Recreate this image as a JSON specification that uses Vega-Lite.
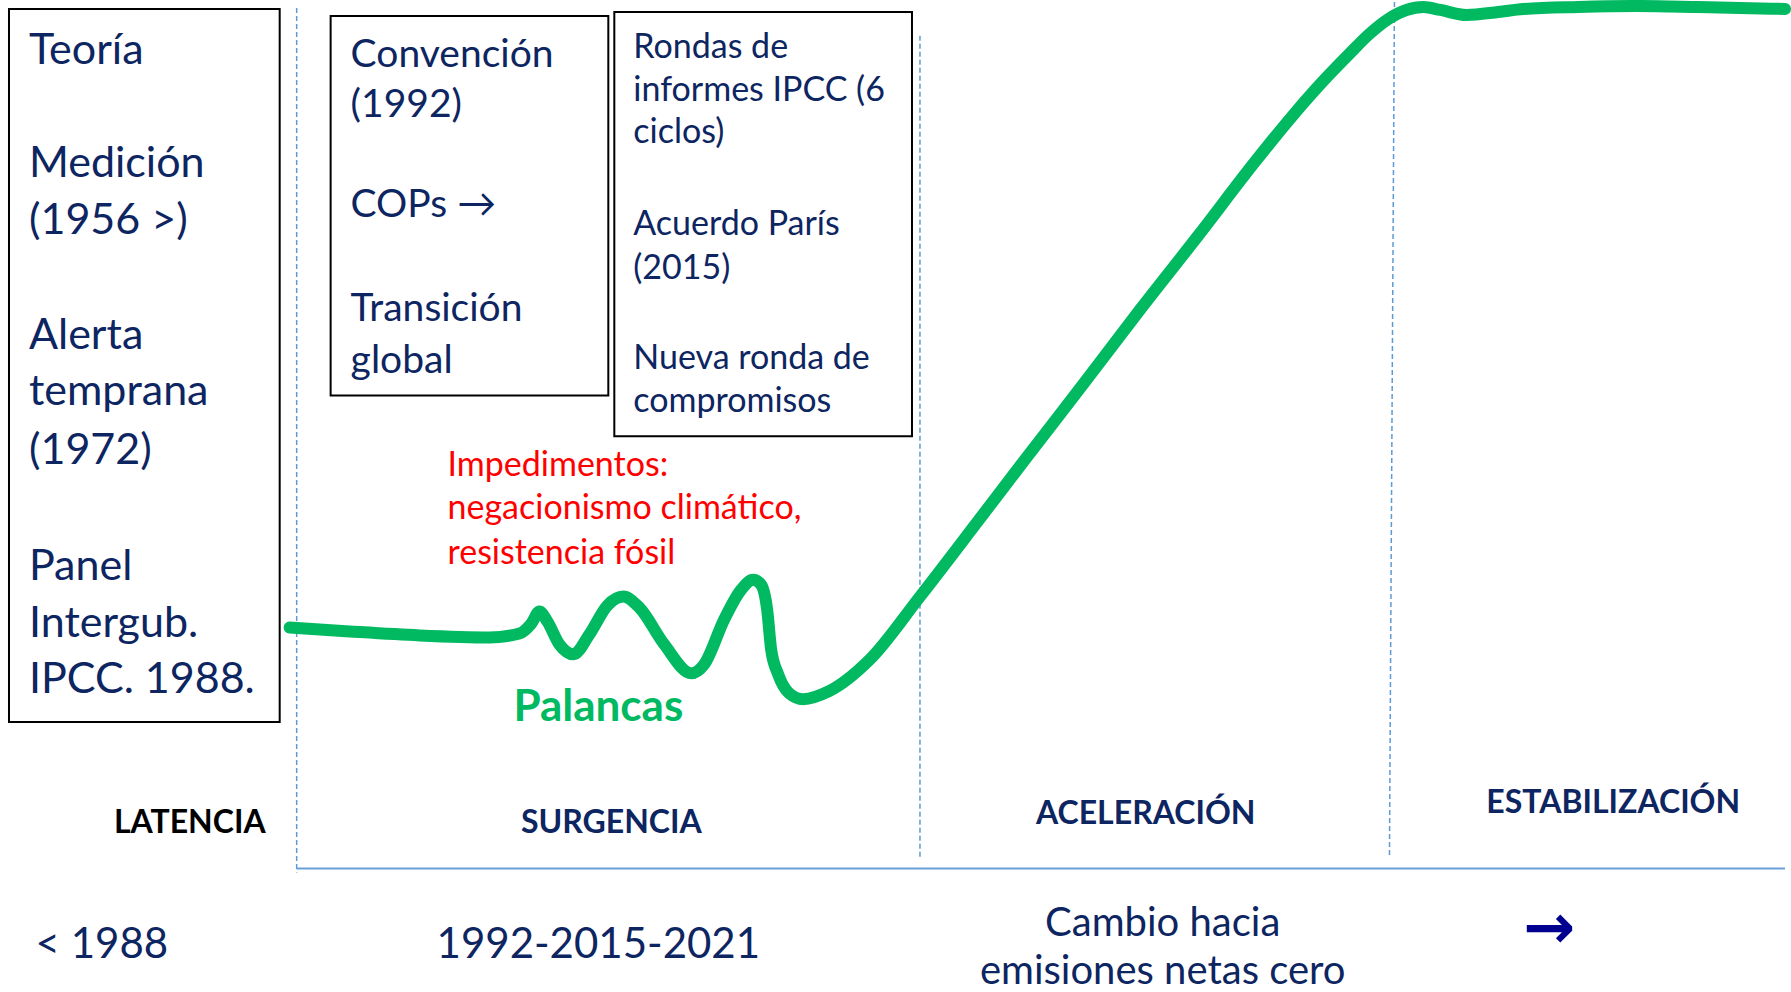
{
  "$schema": "https://vega.github.io/schema/vega-lite/v6.json",
  "width": 1791,
  "height": 992,
  "autosize": {"type": "fit", "contains": "padding"},
  "padding": 0,
  "background": "white",
  "config": {"view": {"stroke": null}},
  "datasets": {
    "boxes": [
      {"x1": 9, "x2": 280, "y1": 7, "y2": 723},
      {"x1": 331, "x2": 609, "y1": 14, "y2": 395},
      {"x1": 615, "x2": 913, "y1": 10, "y2": 436}
    ],
    "vlines": [
      {"xa": 297, "xb": 297, "ya": 6, "yb": 874},
      {"xa": 921, "xb": 921, "ya": 34, "yb": 860},
      {"xa": 1396, "xb": 1391, "ya": 0, "yb": 857}
    ],
    "hline": [{"xa": 297, "xb": 1787, "y": 870}],
    "curve": [
      {"x": 290, "y": 628}, {"x": 350, "y": 632}, {"x": 420, "y": 636}, {"x": 490, "y": 638},
      {"x": 520, "y": 634}, {"x": 532, "y": 624}, {"x": 540, "y": 612}, {"x": 548, "y": 622},
      {"x": 560, "y": 645}, {"x": 574, "y": 655}, {"x": 590, "y": 635}, {"x": 608, "y": 606},
      {"x": 624, "y": 597}, {"x": 640, "y": 608}, {"x": 665, "y": 645}, {"x": 692, "y": 674},
      {"x": 705, "y": 665}, {"x": 725, "y": 620}, {"x": 742, "y": 590}, {"x": 754, "y": 580},
      {"x": 762, "y": 585}, {"x": 768, "y": 610}, {"x": 772, "y": 650}, {"x": 779, "y": 675},
      {"x": 790, "y": 694}, {"x": 804, "y": 700}, {"x": 830, "y": 692}, {"x": 870, "y": 661},
      {"x": 921, "y": 597}, {"x": 980, "y": 520}, {"x": 1028, "y": 457}, {"x": 1085, "y": 383},
      {"x": 1142, "y": 308}, {"x": 1200, "y": 234}, {"x": 1256, "y": 161}, {"x": 1295, "y": 113},
      {"x": 1325, "y": 79}, {"x": 1350, "y": 53}, {"x": 1371, "y": 32}, {"x": 1390, "y": 17},
      {"x": 1408, "y": 8}, {"x": 1425, "y": 5}, {"x": 1442, "y": 8}, {"x": 1468, "y": 13},
      {"x": 1500, "y": 10}, {"x": 1525, "y": 7}, {"x": 1580, "y": 5}, {"x": 1639, "y": 4},
      {"x": 1700, "y": 5}, {"x": 1787, "y": 7}
    ],
    "leftText": [
      {"x": 29, "y": 49, "t": "Teoría"},
      {"x": 29, "y": 163, "t": "Medición"},
      {"x": 29, "y": 220, "t": "(1956 >)"},
      {"x": 29, "y": 335, "t": "Alerta"},
      {"x": 29, "y": 392, "t": "temprana"},
      {"x": 29, "y": 451, "t": "(1972)"},
      {"x": 29, "y": 567, "t": "Panel"},
      {"x": 29, "y": 625, "t": "Intergub."},
      {"x": 29, "y": 681, "t": "IPCC. 1988."}
    ],
    "box2Text": [
      {"x": 351, "y": 53, "t": "Convención"},
      {"x": 351, "y": 103, "t": "(1992)"},
      {"x": 351, "y": 204, "t": "COPs →"},
      {"x": 351, "y": 308, "t": "Transición"},
      {"x": 351, "y": 360, "t": "global"}
    ],
    "box3Text": [
      {"x": 634, "y": 46, "t": "Rondas de"},
      {"x": 634, "y": 89, "t": "informes IPCC (6"},
      {"x": 634, "y": 132, "t": "ciclos)"},
      {"x": 634, "y": 224, "t": "Acuerdo París"},
      {"x": 634, "y": 268, "t": "(2015)"},
      {"x": 634, "y": 358, "t": "Nueva ronda de"},
      {"x": 634, "y": 402, "t": "compromisos"}
    ],
    "redText": [
      {"x": 448, "y": 466, "t": "Impedimentos:"},
      {"x": 448, "y": 509, "t": "negacionismo climático,"},
      {"x": 448, "y": 554, "t": "resistencia fósil"}
    ],
    "greenText": [{"x": 599, "y": 709, "t": "Palancas"}],
    "stageBlack": [{"x": 190, "y": 824, "t": "LATENCIA"}],
    "stageNavy": [
      {"x": 612, "y": 824, "t": "SURGENCIA"},
      {"x": 1147, "y": 815, "t": "ACELERACIÓN"},
      {"x": 1615, "y": 804, "t": "ESTABILIZACIÓN"}
    ],
    "bottomBig": [
      {"x": 102, "y": 947, "t": "< 1988"},
      {"x": 599, "y": 947, "t": "1992-2015-2021"}
    ],
    "bottomMid": [
      {"x": 1164, "y": 926, "t": "Cambio hacia"},
      {"x": 1164, "y": 974, "t": "emisiones netas cero"}
    ],
    "arrow": [{"x": 1551, "y": 931, "t": "→"}]
  },
  "layer": [
    {
      "data": {"name": "boxes"},
      "mark": {"type": "rect", "fillOpacity": 0, "stroke": "#000000", "strokeWidth": 2},
      "encoding": {
        "x": {"field": "x1", "type": "quantitative", "scale": {"domain": [0, 1791], "nice": false, "zero": false}, "axis": null},
        "x2": {"field": "x2"},
        "y": {"field": "y1", "type": "quantitative", "scale": {"domain": [0, 992], "nice": false, "zero": false, "reverse": true}, "axis": null},
        "y2": {"field": "y2"}
      }
    },
    {
      "data": {"name": "vlines"},
      "mark": {"type": "rule", "color": "#5B9BD5", "strokeWidth": 1.5, "strokeDash": [5, 3]},
      "encoding": {
        "x": {"field": "xa", "type": "quantitative"},
        "x2": {"field": "xb"},
        "y": {"field": "ya", "type": "quantitative"},
        "y2": {"field": "yb"}
      }
    },
    {
      "data": {"name": "hline"},
      "mark": {"type": "rule", "color": "#6A9FD9", "strokeWidth": 2},
      "encoding": {
        "x": {"field": "xa", "type": "quantitative"},
        "x2": {"field": "xb"},
        "y": {"field": "y", "type": "quantitative"}
      }
    },
    {
      "data": {"name": "curve"},
      "mark": {"type": "line", "color": "#00B961", "strokeWidth": 12, "interpolate": "monotone", "strokeCap": "round", "strokeJoin": "round"},
      "encoding": {
        "x": {"field": "x", "type": "quantitative"},
        "y": {"field": "y", "type": "quantitative"}
      }
    },
    {
      "data": {"name": "leftText"},
      "mark": {"type": "text", "font": "Lato, DejaVu Sans", "fontSize": 43, "color": "#0D2561", "align": "left", "baseline": "middle"},
      "encoding": {"x": {"field": "x", "type": "quantitative"}, "y": {"field": "y", "type": "quantitative"}, "text": {"field": "t"}}
    },
    {
      "data": {"name": "box2Text"},
      "mark": {"type": "text", "font": "Lato, DejaVu Sans", "fontSize": 39, "color": "#0D2561", "align": "left", "baseline": "middle"},
      "encoding": {"x": {"field": "x", "type": "quantitative"}, "y": {"field": "y", "type": "quantitative"}, "text": {"field": "t"}}
    },
    {
      "data": {"name": "box3Text"},
      "mark": {"type": "text", "font": "Lato, DejaVu Sans", "fontSize": 34, "color": "#0D2561", "align": "left", "baseline": "middle"},
      "encoding": {"x": {"field": "x", "type": "quantitative"}, "y": {"field": "y", "type": "quantitative"}, "text": {"field": "t"}}
    },
    {
      "data": {"name": "redText"},
      "mark": {"type": "text", "font": "Lato, DejaVu Sans", "fontSize": 34, "color": "#FF0000", "align": "left", "baseline": "middle"},
      "encoding": {"x": {"field": "x", "type": "quantitative"}, "y": {"field": "y", "type": "quantitative"}, "text": {"field": "t"}}
    },
    {
      "data": {"name": "greenText"},
      "mark": {"type": "text", "font": "Lato, DejaVu Sans", "fontSize": 44, "fontWeight": "bold", "color": "#00B961", "align": "center", "baseline": "middle"},
      "encoding": {"x": {"field": "x", "type": "quantitative"}, "y": {"field": "y", "type": "quantitative"}, "text": {"field": "t"}}
    },
    {
      "data": {"name": "stageBlack"},
      "mark": {"type": "text", "font": "Lato, DejaVu Sans", "fontSize": 32, "fontWeight": "bold", "color": "#000000", "align": "center", "baseline": "middle"},
      "encoding": {"x": {"field": "x", "type": "quantitative"}, "y": {"field": "y", "type": "quantitative"}, "text": {"field": "t"}}
    },
    {
      "data": {"name": "stageNavy"},
      "mark": {"type": "text", "font": "Lato, DejaVu Sans", "fontSize": 32, "fontWeight": "bold", "color": "#0D2561", "align": "center", "baseline": "middle"},
      "encoding": {"x": {"field": "x", "type": "quantitative"}, "y": {"field": "y", "type": "quantitative"}, "text": {"field": "t"}}
    },
    {
      "data": {"name": "bottomBig"},
      "mark": {"type": "text", "font": "Lato, DejaVu Sans", "fontSize": 42, "color": "#0D2561", "align": "center", "baseline": "middle"},
      "encoding": {"x": {"field": "x", "type": "quantitative"}, "y": {"field": "y", "type": "quantitative"}, "text": {"field": "t"}}
    },
    {
      "data": {"name": "bottomMid"},
      "mark": {"type": "text", "font": "Lato, DejaVu Sans", "fontSize": 40, "color": "#0D2561", "align": "center", "baseline": "middle"},
      "encoding": {"x": {"field": "x", "type": "quantitative"}, "y": {"field": "y", "type": "quantitative"}, "text": {"field": "t"}}
    },
    {
      "data": {"name": "arrow"},
      "mark": {"type": "text", "font": "Noto Sans, DejaVu Sans", "fontSize": 62, "fontWeight": "bold", "color": "#000090", "align": "center", "baseline": "middle"},
      "encoding": {"x": {"field": "x", "type": "quantitative"}, "y": {"field": "y", "type": "quantitative"}, "text": {"field": "t"}}
    }
  ]
}
